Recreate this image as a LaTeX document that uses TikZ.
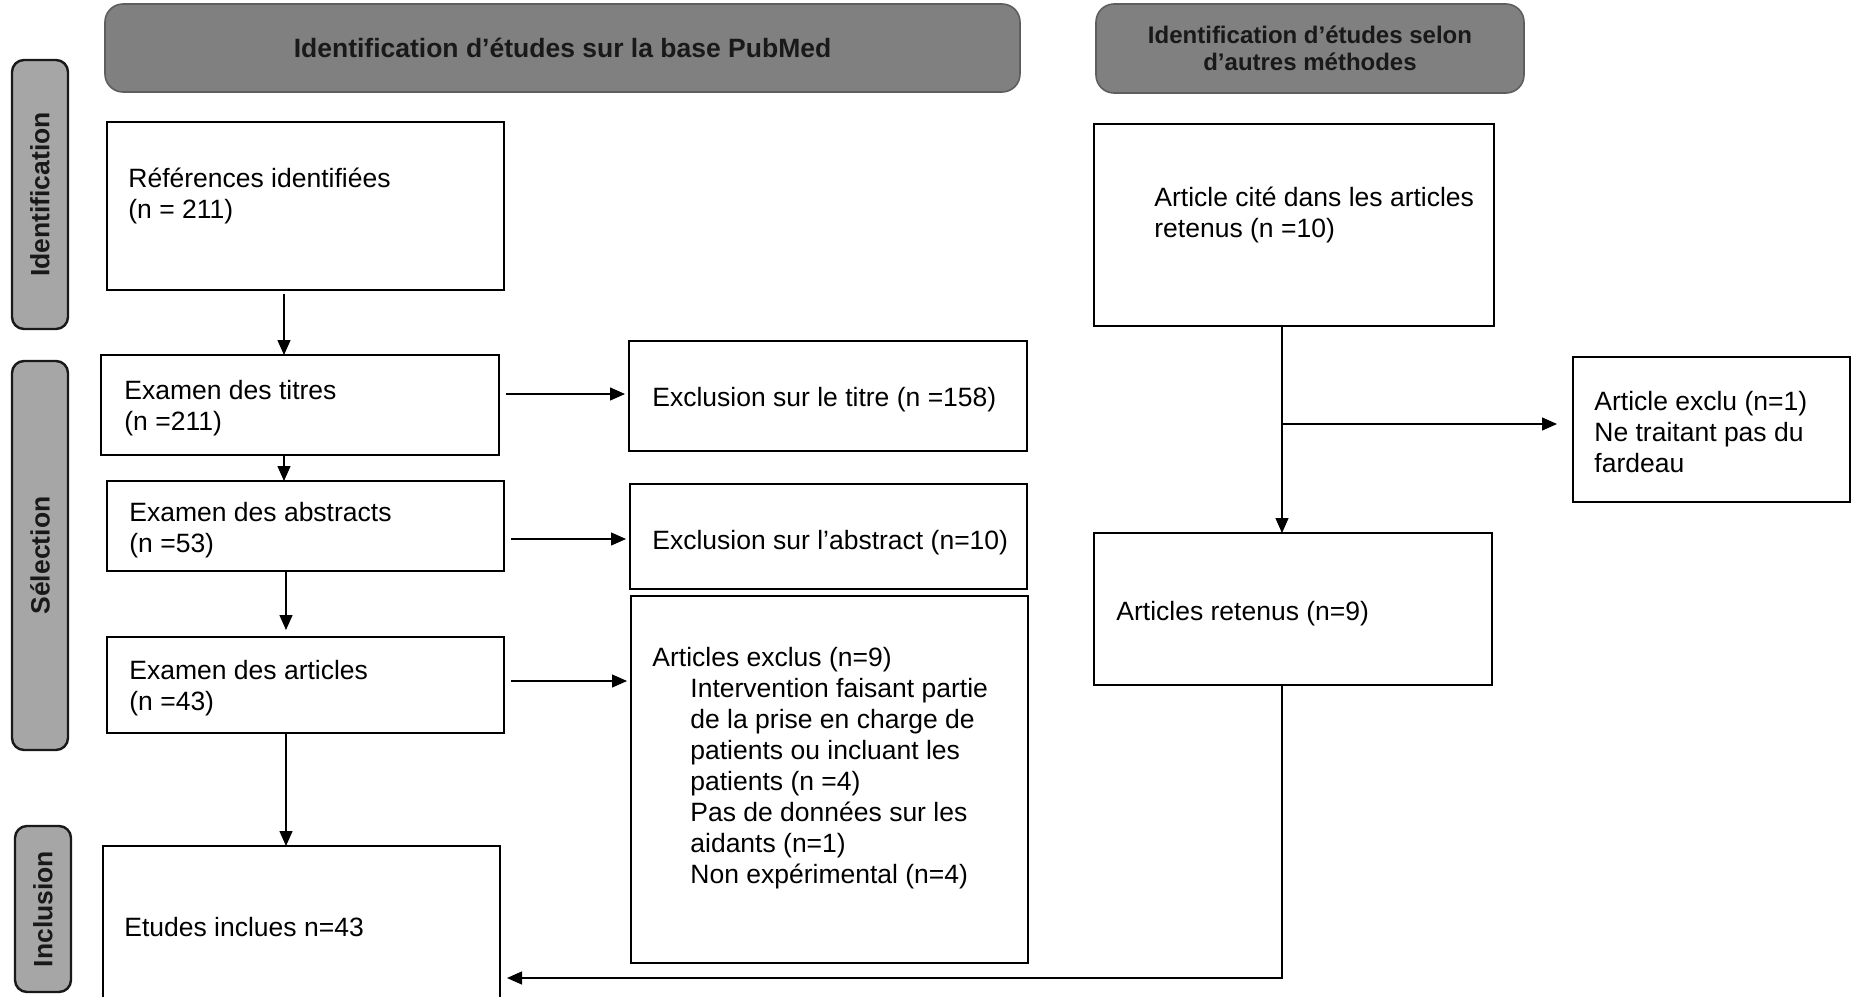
\documentclass[tikz,border=0pt]{standalone}
\usepackage{fontspec}
\setmainfont{Liberation Sans}
\usetikzlibrary{arrows.meta}
\definecolor{hdrfill}{HTML}{808080}
\definecolor{hdrline}{HTML}{5E5E5E}
\definecolor{sidefill}{HTML}{A6A6A6}
\begin{document}
\begin{tikzpicture}[x=0.5pt,y=-0.5pt,
  box/.style={draw=black, line width=1.15pt, fill=white, inner sep=0pt, outer sep=0pt},
  hdr/.style={draw=hdrline, line width=0.8pt, fill=hdrfill, rounded corners=9pt, inner sep=0pt, align=center, text=black!90},
  side/.style={draw=black!90, line width=1.2pt, fill=sidefill, rounded corners=6pt, inner sep=0pt, rotate=90, text=black!90, font=\bfseries\fontsize{13.25pt}{15.5pt}\selectfont},
  txt/.style={anchor=west, align=left, inner sep=0pt, yshift=-1.5pt, font=\fontsize{13.25pt}{15.5pt}\selectfont},
  arr/.style={draw=black, line width=0.65pt, -{Triangle[length=7.5pt,width=6.5pt]}},
  ln/.style={draw=black, line width=0.65pt}]
\useasboundingbox (0,0) rectangle (1852,996);
\clip (0,0) rectangle (1852,996);

% headers
\node[hdr, minimum width=457.5pt, minimum height=44pt, font=\bfseries\fontsize{13.25pt}{15.5pt}\selectfont] (h1) at (562.5,48) {Identification d’études sur la base PubMed};
\node[hdr, minimum width=214pt, minimum height=44.5pt, font=\bfseries\fontsize{12pt}{13.6pt}\selectfont] (h2) at (1310,48.5) {Identification d’études selon\\d’autres méthodes};

% side bars
\node[side, minimum width=134.5pt, minimum height=28pt] (s1) at (40,194.5) {Identification};
\node[side, minimum width=194.5pt, minimum height=28pt] (s2) at (40,555.5) {Sélection};
\node[side, minimum width=83pt, minimum height=28pt] (s3) at (43,909) {Inclusion};

% boxes
\node[box, minimum width=198.5pt, minimum height=84pt] (ref) at (305.5,206) {};
\node[box, minimum width=199pt, minimum height=50pt] (titres) at (300,405) {};
\node[box, minimum width=198.5pt, minimum height=45pt] (abs) at (305.5,526) {};
\node[box, minimum width=198.5pt, minimum height=48pt] (art) at (305.5,685) {};
\node[box, minimum width=198.5pt, minimum height=78pt] (incl) at (301.5,924) {};
\node[box, minimum width=199pt, minimum height=55pt] (excltitre) at (828,396) {};
\node[box, minimum width=198.5pt, minimum height=52.5pt] (exclabs) at (828.5,536.5) {};
\node[box, minimum width=198.5pt, minimum height=183.5pt] (artexcl) at (829.5,779.5) {};
\node[box, minimum width=200pt, minimum height=101pt] (cite) at (1294,225) {};
\node[box, minimum width=199pt, minimum height=76pt] (retenus) at (1293,609) {};
\node[box, minimum width=138.5pt, minimum height=72.5pt] (exclu) at (1711.5,429.5) {};

% texts
\node[txt] (tref) at (128,193) {Références identifiées\\(n = 211)};
\node[txt] (ttitres) at (124,405) {Examen des titres\\(n =211)};
\node[txt] (tabs) at (129,527) {Examen des abstracts\\(n =53)};
\node[txt] (tart) at (129,685) {Examen des articles\\(n =43)};
\node[txt] (tincl) at (124,924) {Etudes inclues n=43};
\node[txt] (texcltitre) at (652,397) {Exclusion sur le titre (n =158)};
\node[txt] (texclabs) at (652,540) {Exclusion sur l’abstract (n=10)};
\node[txt] (tartexcl) at (652,765) {Articles exclus (n=9)\\
\hspace*{19pt}Intervention faisant partie\\
\hspace*{19pt}de la prise en charge de\\
\hspace*{19pt}patients ou incluant les\\
\hspace*{19pt}patients (n =4)\\
\hspace*{19pt}Pas de données sur les\\
\hspace*{19pt}aidants (n=1)\\
\hspace*{19pt}Non expérimental (n=4)};
\node[txt] (tcite) at (1154,212) {Article cité dans les articles\\retenus (n =10)};
\node[txt] (tretenus) at (1116,611) {Articles retenus (n=9)};
\node[txt] (texclu) at (1594,429.5) {Article exclu (n=1)\\Ne traitant pas du\\fardeau};

% helper coordinates
\coordinate (cxL) at (284,0);
\coordinate (cxL2) at (286,0);
\coordinate (cxR) at (1282,0);
\coordinate (yA) at (0,394);
\coordinate (yB) at (0,539);
\coordinate (yC) at (0,681);
\coordinate (br) at (1282,424);
\coordinate (yD) at (0,978);

% connectors
\draw[arr, shorten <=2pt] (ref.south -| cxL) -- (titres.north -| cxL);
\draw[arr] (titres.south -| cxL) -- (abs.north -| cxL);
\draw[arr, shorten >=3.5pt] (abs.south -| cxL2) -- (art.north -| cxL2);
\draw[arr] (art.south -| cxL2) -- (incl.north -| cxL2);
\draw[arr, shorten <=3.5pt, shorten >=2pt] (titres.east |- yA) -- (excltitre.west |- yA);
\draw[arr, shorten <=3.5pt, shorten >=2pt] (abs.east |- yB) -- (exclabs.west |- yB);
\draw[arr, shorten <=3.5pt, shorten >=2pt] (art.east |- yC) -- (artexcl.west |- yC);
\draw[arr] (cite.south -| cxR) -- (retenus.north -| cxR);
\draw[arr, shorten >=8pt] (br) -- (exclu.west |- br);
\draw[arr, shorten >=3.5pt] (retenus.south -| cxR) |- (incl.east |- yD);
\end{tikzpicture}
\end{document}
